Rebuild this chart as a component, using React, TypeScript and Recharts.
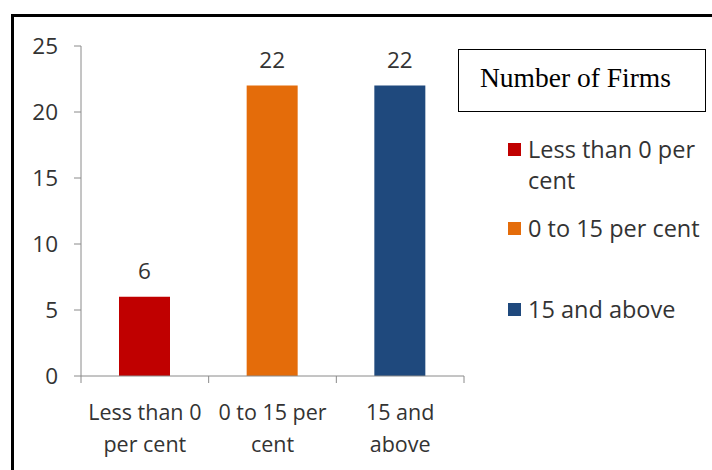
import { BarChart, Bar, XAxis, YAxis, Cell, LabelList } from 'recharts';

const categories = ['Less than 0 per cent', '0 to 15 per cent', '15 and above'];
const firms = [6, 22, 22];
const colors = ['#C00000', '#E46C0A', '#1F497D'];
const yTicks = [0, 5, 10, 15, 20, 25];
// wrapped lines for the category axis and the legend
const axisLines = [
  ['Less than 0', 'per cent'],
  ['0 to 15 per', 'cent'],
  ['15 and', 'above'],
];
const legendLines = [['Less than 0 per', 'cent'], ['0 to 15 per cent'], ['15 and above']];
const legendTitle = 'Number of Firms';

const data = categories.map((name, i) => ({ name, firms: firms[i] }));

const SANS = '"Open Sans", sans-serif';
const TEXT = '#333333';
const AXIS = '#8a8a8a';

const CategoryTick = (props: any) => {
  const { x, y, payload, index } = props;
  const half = payload?.offset || 383 / categories.length / 2;
  const lines = axisLines[index] || [payload.value];
  const top = y - 7;
  return (
    <g>
      <line x1={x - half} x2={x - half} y1={top} y2={top + 7} stroke={AXIS} />
      {index === categories.length - 1 && (
        <line x1={x + half} x2={x + half} y1={top} y2={top + 7} stroke={AXIS} />
      )}
      <text x={x} y={y} textAnchor="middle" fill={TEXT} fontFamily={SANS} fontSize={21.5}>
        {lines.map((l: string, i: number) => (
          <tspan key={i} x={x} y={y + 37 + i * 32}>
            {l}
          </tspan>
        ))}
      </text>
    </g>
  );
};

const legendTops = [150, 229, 310];

const ChartLegend = () => (
  <>
    <div
      style={{
        position: 'absolute',
        left: 458,
        top: 49,
        width: 246,
        height: 61,
        border: '1.5px solid #000',
        boxSizing: 'content-box',
      }}
    >
      <div
        style={{
          position: 'absolute',
          left: 21,
          top: 13,
          fontFamily: '"Liberation Serif", serif',
          fontSize: 27.5,
          lineHeight: '30px',
          color: '#000',
          whiteSpace: 'nowrap',
        }}
      >
        {legendTitle}
      </div>
    </div>
    {legendLines.map((lines, i) => (
      <div key={i} style={{ position: 'absolute', left: 508, top: legendTops[i] - 7 }}>
        <div style={{ position: 'absolute', left: 0, top: 0, width: 13, height: 13, background: colors[i] }} />
        <div
          style={{
            position: 'absolute',
            left: 20,
            top: -9,
            fontFamily: SANS,
            fontSize: 23.5,
            lineHeight: '31px',
            color: TEXT,
            whiteSpace: 'nowrap',
          }}
        >
          {lines.map((l, j) => (
            <div key={j}>{l}</div>
          ))}
        </div>
      </div>
    ))}
  </>
);

export default function App() {
  return (
    <div style={{ position: 'fixed', left: 0, top: 0, width: 712, height: 470, background: '#fff', overflow: 'hidden' }}>
      <div
        style={{
          position: 'absolute',
          left: 11,
          top: 14,
          width: 800,
          height: 600,
          borderLeft: '3px solid #000',
          borderTop: '3px solid #000',
        }}
      />
      <div style={{ position: 'absolute', left: 0, top: 0 }}>
        <BarChart width={712} height={470} data={data} margin={{ top: 46, right: 248, bottom: 0, left: 0 }}>
          <YAxis
            width={81}
            domain={[0, 25]}
            ticks={yTicks}
            interval={0}
            tickSize={7}
            tickMargin={16}
            stroke={AXIS}
            tick={{ fill: TEXT, fontFamily: SANS, fontSize: 22.5 }}
          />
          <XAxis
            dataKey="name"
            height={94}
            interval={0}
            tickLine={false}
            tickSize={7}
            tickMargin={0}
            stroke={AXIS}
            tick={<CategoryTick />}
          />
          <Bar dataKey="firms" barSize={51} isAnimationActive={false}>
            {data.map((d, i) => (
              <Cell key={d.name} fill={colors[i]} />
            ))}
            <LabelList dataKey="firms" position="top" offset={18} fill={TEXT} fontFamily={SANS} fontSize={22.5} />
          </Bar>
        </BarChart>
      </div>
      <ChartLegend />
    </div>
  );
}
